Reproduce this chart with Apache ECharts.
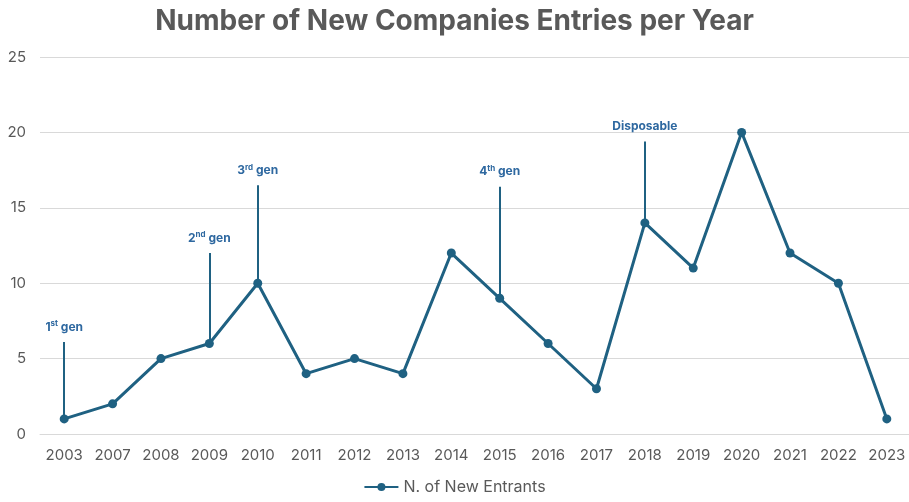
<!DOCTYPE html>
<html><head><meta charset="utf-8">
<script src="https://cdn.jsdelivr.net/npm/echarts@6/dist/echarts.min.js"></script>
<style>html,body{margin:0;padding:0;background:#fff}#c{width:909px;height:502px}</style>
</head><body><div id="c"></div>
<script>
const years = ['2003','2007','2008','2009','2010','2011','2012','2013','2014','2015','2016','2017','2018','2019','2020','2021','2022','2023'];
const entrants = [1,2,5,6,10,4,5,4,12,9,6,3,14,11,20,12,10,1];
const yTicks = [0,5,10,15,20,25];
const annYears = ['2003','2009','2010','2015','2018'];
const annTops = [6.1,12,16.5,16.4,19.4];
const annNum = ['1','2','3','4',''];
const annSup = ['st','nd','rd','th',''];
const annWord = ['gen','gen','gen','gen','Disposable'];

const lineColor = '#1f6182';
const annColor = '#2e68a0';
const textColor = '#595959';
const font = 'Inter, "Open Sans", sans-serif';

const markData = annYears.map((y,i)=>{
  const v = entrants[years.indexOf(y)];
  const fmt = annNum[i] ? '{b|'+annNum[i]+'}{s|'+annSup[i]+'}{b| '+annWord[i]+'}' : '{b|'+annWord[i]+'}';
  return [{coord:[y,v]},{coord:[y,annTops[i]], label:{formatter:fmt}}];
});

const chart = echarts.init(document.getElementById('c'));
chart.setOption({
  animation:false,
  title:{text:'Number of New Companies Entries per Year',left:'center',top:3,
    textStyle:{fontFamily:font,fontSize:28,fontWeight:'bold',color:textColor}},
  grid:{left:40,width:871,top:57,bottom:68,containLabel:false,outerBoundsMode:'none'},
  legend:{bottom:2,left:'center',itemWidth:34,itemHeight:10,
    textStyle:{fontFamily:font,fontSize:16,color:textColor},
    data:[{name:'N. of New Entrants'}]},
  xAxis:{type:'category',data:years,boundaryGap:true,
    axisLine:{lineStyle:{color:'#d9d9d9'}},axisTick:{show:false},
    axisLabel:{fontFamily:font,fontSize:15,color:textColor,margin:14,interval:0}},
  yAxis:{type:'value',min:0,max:25,interval:5,
    axisLabel:{fontFamily:font,fontSize:15,color:textColor,margin:14},
    splitLine:{lineStyle:{color:'#d9d9d9',width:1}},axisLine:{show:false}},
  series:[{
    name:'N. of New Entrants',type:'line',data:entrants,
    symbol:'circle',symbolSize:9,
    lineStyle:{color:lineColor,width:3},
    itemStyle:{color:lineColor},
    markLine:{silent:true,symbol:['none','none'],
      lineStyle:{color:lineColor,width:2,type:'solid'},
      label:{show:true,position:'end',distance:8,color:annColor,
        rich:{b:{fontFamily:font,fontSize:12,fontWeight:'bold',color:annColor,lineHeight:14},
              s:{fontFamily:font,fontSize:8,fontWeight:'bold',color:annColor,verticalAlign:'top',lineHeight:14}}},
      emphasis:{disabled:true},
      data:markData}
  }]
});
</script></body></html>
